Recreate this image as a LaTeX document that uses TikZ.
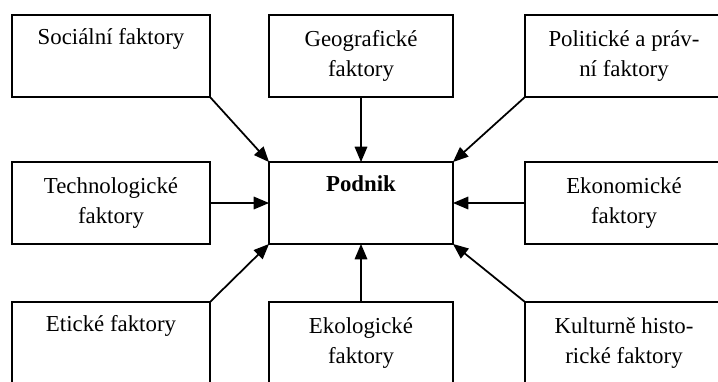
\documentclass[tikz,border=0pt]{standalone}
\usepackage{fontspec}
\setmainfont{Liberation Serif}
\usetikzlibrary{arrows, positioning}
\tikzset {
    factor/.style = {
        draw,
        shape = rectangle,
        line width=1pt,
        outer sep=0pt,
        minimum width=3.96cm,
        minimum height=1.64cm,
        align=center,
        font=\fontsize{13}{17}\selectfont
    },
    firm/.style = {
        factor,
        minimum width=3.68cm,
        font=\fontsize{13}{17}\selectfont\bfseries
    },
    influence/.style = {
        ->,
        >=triangle 45,
        line width=1pt,
        draw
    }
}
\begin{document}
\begin{tikzpicture}
        \useasboundingbox (0, 0) rectangle (14.36, -7.62);
        \clip (0, 0) rectangle (14.36, -7.62);

        % Centre : the firm itself
        \node [firm] at (7.22, -4.06)                                    (podnik)   {Podnik\\\strut};

        % Top row : social, geographic, political
        \node [factor, above left=1.3cm and 1.18cm of podnik]            (social)   {Sociální faktory\\\strut};
        \node [factor, minimum width=3.68cm, above=1.3cm of podnik]      (geo)      {Geografické\\faktory};
        \node [factor, above right=1.3cm and 1.44cm of podnik]           (politic)  {Politické a práv-\\ní faktory};

        % Middle row : technological, economic
        \node [factor, left=1.18cm of podnik]                            (tech)     {Technologické\\faktory};
        \node [factor, right=1.44cm of podnik]                           (econ)     {Ekonomické\\faktory};

        % Bottom row : ethical, ecological, cultural
        \node [factor, below left=1.16cm and 1.18cm of podnik]           (ethic)    {Etické faktory\\\strut};
        \node [factor, minimum width=3.68cm, below=1.16cm of podnik]     (ecol)     {Ekologické\\faktory};
        \node [factor, below right=1.16cm and 1.44cm of podnik]          (cult)     {Kulturně histo-\\rické faktory};

        \path [influence]   (social.south east)     --  (podnik.north west);
        \path [influence]   (geo)                   --  (podnik);
        \path [influence]   (politic.south west)    --  (podnik.north east);
        \path [influence]   (tech)                  --  (podnik);
        \path [influence]   (econ)                  --  (podnik);
        \path [influence]   (ethic.north east)      --  (podnik.south west);
        \path [influence]   (ecol)                  --  (podnik);
        \path [influence]   (cult.north west)       --  (podnik.south east);
    \end{tikzpicture}
\end{document}
